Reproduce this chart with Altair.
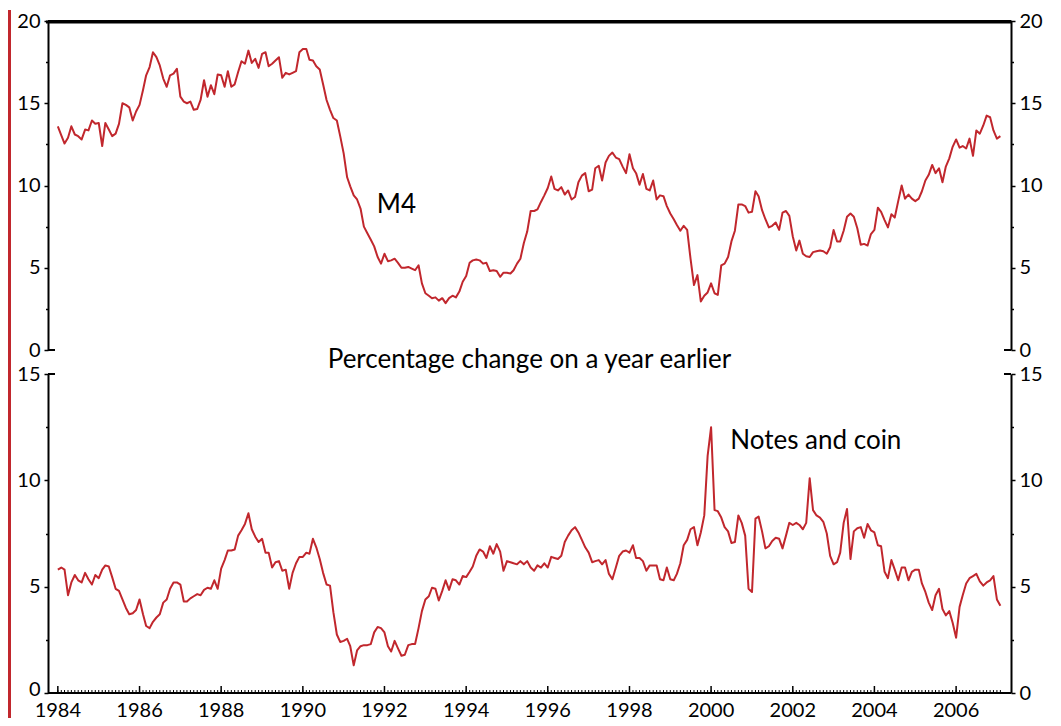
import altair as alt
import pandas as pd

# Monthly growth rates, Jan 1984 .. Feb 2007 (percentage change on a year earlier)
m4_growth = [
    13.6, 13.05, 12.55, 12.9, 13.6, 13.1, 13.0, 12.8, 13.4, 13.35, 13.95, 13.75,      # 1984
    13.8, 12.4, 13.8, 13.4, 13.0, 13.15, 13.75, 15.0, 14.9, 14.75, 13.95, 14.5,       # 1985
    14.9, 15.8, 16.7, 17.2, 18.1, 17.8, 17.3, 16.5, 16.0, 16.7, 16.8, 17.1,           # 1986
    15.4, 15.1, 15.0, 15.1, 14.6, 14.65, 15.2, 16.4, 15.4, 16.1, 15.55, 16.75,        # 1987
    16.7, 16.0, 16.95, 16.0, 16.15, 16.9, 17.55, 17.4, 18.2, 17.45, 17.7, 17.15,      # 1988
    18.0, 18.1, 17.25, 17.4, 17.6, 17.8, 16.55, 16.85, 16.75, 16.85, 16.95, 18.1,     # 1989
    18.3, 18.3, 17.65, 17.6, 17.25, 17.05, 16.15, 15.2, 14.6, 14.1, 13.95, 13.0,      # 1990
    11.95, 10.5, 9.95, 9.4, 9.15, 8.6, 7.5, 7.1, 6.7, 6.3, 5.65, 5.25,                # 1991
    5.85, 5.4, 5.45, 5.55, 5.3, 5.0, 5.0, 5.05, 4.95, 4.85, 5.15, 4.05,               # 1992
    3.45, 3.3, 3.15, 3.2, 3.0, 3.15, 2.85, 3.15, 3.3, 3.2, 3.55, 4.15,                # 1993
    4.5, 5.3, 5.45, 5.5, 5.45, 5.25, 5.3, 4.8, 4.85, 4.8, 4.45, 4.7,                  # 1994
    4.7, 4.65, 4.85, 5.25, 5.55, 6.5, 7.2, 8.45, 8.45, 8.55, 9.0, 9.4,                # 1995
    9.85, 10.55, 9.8, 9.7, 9.9, 9.45, 9.7, 9.15, 9.3, 10.2, 10.6, 10.75,              # 1996
    9.65, 9.75, 11.05, 11.2, 10.3, 11.4, 11.8, 12.0, 11.7, 11.6, 11.15, 10.75,        # 1997
    11.9, 11.05, 10.75, 10.05, 10.7, 9.8, 9.7, 10.3, 9.15, 9.4, 9.35, 8.75,           # 1998
    8.3, 7.95, 7.6, 7.25, 7.55, 7.3, 5.55, 3.95, 4.55, 2.95, 3.3, 3.5,                # 1999
    4.05, 3.45, 3.35, 5.15, 5.25, 5.65, 6.6, 7.25, 8.85, 8.85, 8.75, 8.35,            # 2000
    8.4, 9.65, 9.35, 8.5, 7.95, 7.45, 7.55, 7.75, 7.3, 8.35, 8.45, 8.15,              # 2001
    6.9, 6.05, 6.65, 5.85, 5.7, 5.65, 5.95, 6.0, 6.05, 6.0, 5.85, 6.25,               # 2002
    7.3, 6.6, 6.6, 7.25, 8.1, 8.3, 8.1, 7.4, 6.4, 6.45, 6.35, 7.05,                   # 2003
    7.3, 8.65, 8.4, 7.9, 7.45, 8.25, 8.05, 9.05, 10.0, 9.2, 9.45, 9.2,                # 2004
    9.05, 9.2, 9.65, 10.3, 10.65, 11.25, 10.75, 11.05, 10.2, 11.15, 11.65, 12.35,     # 2005
    12.8, 12.3, 12.4, 12.25, 12.85, 11.8, 13.35, 13.15, 13.65, 14.25, 14.15, 13.35,   # 2006
    12.85, 13.0,                                                                      # 2007
]

notes_coin_growth = [
    5.8, 5.9, 5.8, 4.6, 5.2, 5.55, 5.3, 5.2, 5.65, 5.35, 5.1, 5.55,                   # 1984
    5.4, 5.8, 6.0, 5.95, 5.45, 4.9, 4.8, 4.4, 4.0, 3.7, 3.75, 3.9,                    # 1985
    4.4, 3.7, 3.15, 3.05, 3.35, 3.55, 3.7, 4.25, 4.4, 4.9, 5.2, 5.2,                  # 1986
    5.1, 4.3, 4.3, 4.45, 4.55, 4.65, 4.6, 4.85, 4.95, 4.9, 5.3, 4.9,                  # 1987
    5.85, 6.25, 6.7, 6.7, 6.75, 7.4, 7.65, 7.95, 8.45, 7.7, 7.35, 7.1,                # 1988
    7.25, 6.6, 6.6, 5.9, 6.15, 6.2, 5.75, 5.8, 4.9, 5.65, 6.1, 6.4,                   # 1989
    6.4, 6.6, 6.55, 7.25, 6.85, 6.3, 5.65, 5.1, 5.05, 3.8, 2.75, 2.4,                 # 1990
    2.45, 2.55, 2.2, 1.3, 2.0, 2.2, 2.25, 2.25, 2.3, 2.85, 3.1, 3.05,                 # 1991
    2.85, 2.2, 1.95, 2.45, 2.1, 1.75, 1.8, 2.25, 2.3, 2.3, 3.05, 3.85,                # 1992
    4.4, 4.55, 4.95, 4.9, 4.35, 4.8, 5.3, 4.85, 5.35, 5.3, 5.1, 5.5,                  # 1993
    5.45, 5.7, 5.95, 6.45, 6.75, 6.65, 6.35, 6.9, 6.55, 7.0, 6.65, 5.75,              # 1994
    6.2, 6.15, 6.1, 6.05, 6.2, 6.05, 6.2, 5.9, 5.75, 6.0, 5.9, 6.1,                   # 1995
    5.9, 6.4, 6.35, 6.3, 6.45, 7.1, 7.4, 7.65, 7.8, 7.55, 7.2, 6.85,                  # 1996
    6.6, 6.15, 6.2, 6.25, 6.05, 6.25, 5.6, 5.35, 5.9, 6.45, 6.65, 6.7,                # 1997
    6.6, 6.95, 6.35, 6.35, 6.2, 5.75, 6.0, 6.0, 6.0, 5.35, 5.3, 5.9,                  # 1998
    5.35, 5.3, 5.6, 6.1, 6.95, 7.2, 7.7, 7.8, 6.95, 7.55, 8.35, 11.15,                # 1999
    12.5, 8.6, 8.55, 8.25, 7.8, 7.6, 7.05, 7.1, 8.35, 8.0, 7.4, 4.9,                  # 2000
    4.75, 8.2, 8.3, 7.6, 6.8, 6.9, 7.15, 7.3, 7.25, 6.8, 7.4, 8.0,                    # 2001
    7.9, 8.0, 7.9, 7.7, 8.0, 10.1, 8.6, 8.35, 8.25, 8.05, 7.5, 6.45,                  # 2002
    6.05, 6.15, 6.6, 8.0, 8.65, 6.3, 7.6, 7.75, 7.8, 7.3, 7.95, 7.65,                 # 2003
    7.55, 6.95, 6.9, 5.7, 5.4, 6.25, 5.8, 5.3, 5.9, 5.9, 5.3, 5.7,                    # 2004
    5.8, 5.8, 5.15, 4.75, 4.25, 3.9, 4.6, 4.9, 3.95, 3.65, 3.85, 3.3,                 # 2005
    2.6, 4.05, 4.6, 5.15, 5.4, 5.5, 5.6, 5.25, 5.05, 5.2, 5.3, 5.5,                   # 2006
    4.4, 4.1,                                                                         # 2007
]

year_labels = [1984, 1986, 1988, 1990, 1992, 1994, 1996, 1998, 2000, 2002, 2004, 2006]
top_ticks = [0, 2.5, 5, 7.5, 10, 12.5, 15, 17.5, 20]
bottom_ticks = [0, 2.5, 5, 7.5, 10, 12.5, 15]

label_text = ["M4", "Notes and coin"]
label_date = ["1991-10-24T00:00:00", "2000-06-20T00:00:00"]
label_value = [8.8, 11.85]
subtitle = "Percentage change on a year earlier"

x_start = "1983-10-05T00:00:00"
x_end = "2007-05-07T00:00:00"

dates = pd.date_range("1984-01-01", periods=len(m4_growth), freq="MS").strftime("%Y-%m-%dT00:00:00")
df = pd.DataFrame({"date": dates, "m4": m4_growth, "nc": notes_coin_growth})
year_df = pd.DataFrame({"date": [f"{y}-01-01T00:00:00" for y in year_labels],
                        "label": [str(y) for y in year_labels]})
frame_top_df = pd.DataFrame({"s": [x_start], "e": [x_end], "v": [20]})
frame_bot_df = pd.DataFrame({"s": [x_start], "e": [x_end], "v": [0]})
one = pd.DataFrame({"a": [0]})

RED = "#c1272d"
FONT = "Lato"
W, H1, H2 = 963, 329, 319
LBL = 20

xscale = alt.Scale(domain=[alt.DateTime(year=1983, month=10, date=5),
                           alt.DateTime(year=2007, month=5, date=7)])


def yaxis(orient, values, zero_shift=0):
    return alt.Axis(
        orient=orient, values=values, grid=False, title=None,
        labelExpr="datum.value % 5 === 0 ? datum.label : ''",
        tickSize={"condition": {"test": "datum.value % 5 === 0", "value": 4}, "value": 2.5},
        labelOffset={"condition": {"test": "datum.value === 0", "value": zero_shift}, "value": 0},
        tickColor="black", tickWidth=1.5, domainColor="black", domainWidth=2,
        labelFont=FONT, labelFontSize=LBL, labelColor="black", labelPadding=4,
    )


def panel(field, dom, ticks, lab_idx, zero_shift, frame_df):
    ysc = alt.Scale(domain=dom, nice=False, zero=True)
    line = alt.Chart(df).mark_line(color=RED, strokeWidth=2, strokeJoin="round").encode(
        x=alt.X("date:T", scale=xscale, axis=None),
        y=alt.Y(f"{field}:Q", scale=ysc, axis=yaxis("left", ticks, zero_shift)),
    )
    right = alt.Chart(df).mark_line(strokeOpacity=0).encode(
        x=alt.X("date:T", scale=xscale, axis=None),
        y=alt.Y(f"{field}:Q", scale=ysc, axis=yaxis("right", ticks)),
    )
    lab_df = pd.DataFrame({"date": [label_date[lab_idx]], "v": [label_value[lab_idx]],
                           "t": [label_text[lab_idx]]})
    lab = alt.Chart(lab_df).mark_text(align="left", baseline="middle", font=FONT,
                                      fontSize=26, color="black").encode(
        x=alt.X("date:T", scale=xscale, axis=None),
        y=alt.Y("v:Q", scale=ysc, axis=None),
        text="t:N",
    )
    frame = alt.Chart(frame_df).mark_rule(color="#000000", strokeWidth=2).encode(
        x=alt.X("s:T", scale=xscale, axis=None),
        x2="e:T",
        y=alt.Y("v:Q", scale=ysc, axis=None),
    )
    return [line, right, lab, frame]


def hline(x0, x1, y, w=2):
    return alt.Chart(one).mark_rule(color="#000000", strokeWidth=w, opacity=1).encode(
        x=alt.value(x0), x2=alt.value(x1), y=alt.value(y))


red_bar = alt.Chart(one).mark_rule(color=RED, strokeWidth=3).encode(
    x=alt.value(-38.5), y=alt.value(-11), y2=alt.value(697))
sub = alt.Chart(one).mark_text(font=FONT, fontSize=26, color="black", align="center",
                               baseline="middle").encode(
    x=alt.value(W / 2), y=alt.value(H1 + 10), text=alt.value(subtitle))

top = alt.layer(
    *panel("m4", [0, 20], top_ticks, 0, 0, frame_top_df),
    hline(-2, W + 1, 1, 3),
    hline(0, 7, H1), hline(W - 7, W, H1), red_bar, sub,
).resolve_scale(y="independent").properties(width=W, height=H1)

ticks_month = alt.Chart(df).mark_rule(color="black", strokeWidth=1).encode(
    x=alt.X("date:T", scale=xscale, axis=None), y=alt.value(H2), y2=alt.value(H2 - 3))
ticks_year = alt.Chart(year_df).mark_rule(color="black", strokeWidth=1.5).encode(
    x=alt.X("date:T", scale=xscale, axis=None), y=alt.value(H2), y2=alt.value(H2 - 7))
year_text = alt.Chart(year_df).mark_text(font=FONT, fontSize=LBL, color="black",
                                         align="center", baseline="top").encode(
    x=alt.X("date:T", scale=xscale, axis=None), y=alt.value(H2 + 8), text="label:N")

bottom = alt.layer(
    *panel("nc", [0, 15], bottom_ticks, 1, -4, frame_bot_df),
    ticks_month, ticks_year, year_text,
    hline(0, W, H2), hline(0, 7, 0), hline(W - 7, W, 0),
).resolve_scale(y="independent").properties(width=W, height=H2)

chart = alt.VConcatChart(vconcat=[top, bottom], spacing=24, bounds="flush", padding=0) \
    .configure(font=FONT) \
    .configure_view(stroke=None, strokeWidth=0)

chart.save("out.html", embed_options={"renderer": "svg", "actions": False})
